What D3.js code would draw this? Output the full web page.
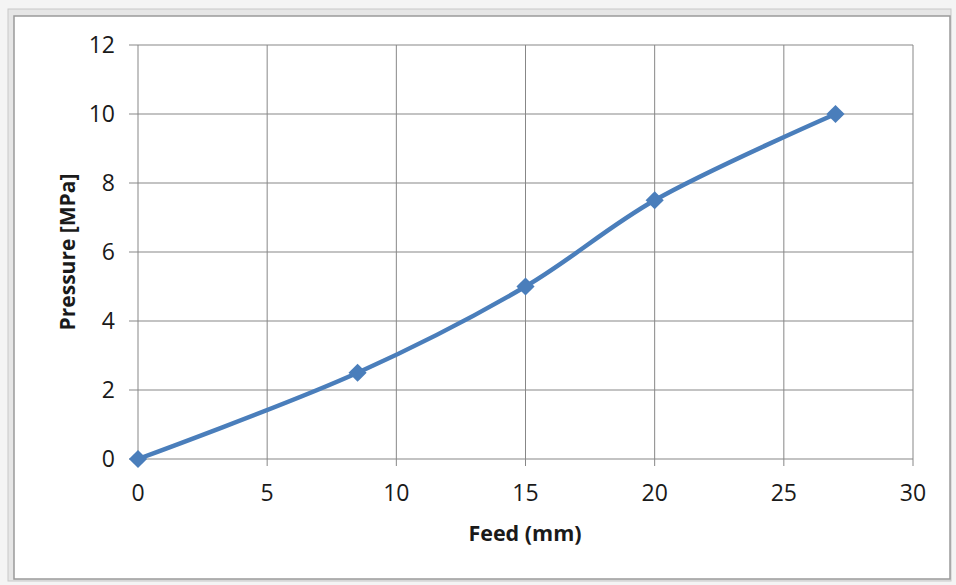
<!DOCTYPE html>
<html>
<head>
<meta charset="utf-8">
<script src="https://cdn.jsdelivr.net/npm/d3@7"></script>
<style>
  body { margin: 0; background: #ffffff; }
  svg { display: block; }
</style>
</head>
<body>
<svg id="chart" width="956" height="585"></svg>
<script>
// data
var feed = [0, 8.5, 15, 20, 27]
var pressure = [0, 2.5, 5, 7.5, 10]
var xTicks = [0, 5, 10, 15, 20, 25, 30]
var yTicks = [0, 2, 4, 6, 8, 10, 12]

var svg = d3.select("#chart")
var W = 956, H = 585
var margin = {top: 45, bottom: 126, left: 138, right: 43}

// spreadsheet backdrop behind the chart object
svg.append("rect").attr("x", 0).attr("y", 0).attr("width", W).attr("height", H).attr("fill", "#f4f4f4")
svg.append("rect").attr("x", 8).attr("y", 9).attr("width", 943).attr("height", 572)
   .attr("fill", "#e6e6e6").attr("stroke", "#c8c8c8")
svg.append("rect").attr("x", 14).attr("y", 16).attr("width", 936).attr("height", 563)
   .attr("fill", "#ffffff").attr("stroke", "#9a9a9a").attr("stroke-width", 1.5)

var x = d3.scaleLinear().domain([0, 30]).range([margin.left, W - margin.right])
var y = d3.scaleLinear().domain([0, 12]).range([H - margin.bottom, margin.top])

var grid = svg.append("g").attr("id", "grid")
grid.selectAll("line.v").data(xTicks).enter().append("line")
    .attr("x1", function (d) { return x(d) }).attr("x2", function (d) { return x(d) })
    .attr("y1", y(12)).attr("y2", y(0) + 7)
    .attr("stroke", "#878787").attr("stroke-width", 1)
grid.selectAll("line.h").data(yTicks).enter().append("line")
    .attr("x1", x(0) - 9).attr("x2", x(30))
    .attr("y1", function (d) { return y(d) }).attr("y2", function (d) { return y(d) })
    .attr("stroke", "#878787").attr("stroke-width", 1)

var font = "'Open Sans', 'Liberation Sans', sans-serif"

svg.append("g").selectAll("text").data(xTicks).enter().append("text")
   .attr("x", function (d) { return x(d) }).attr("y", y(0) + 42)
   .attr("text-anchor", "middle").attr("font-family", font).attr("font-size", "23px")
   .attr("fill", "#1a1a1a").text(function (d) { return d })

svg.append("g").selectAll("text").data(yTicks).enter().append("text")
   .attr("x", x(0) - 23).attr("y", function (d) { return y(d) + 8 })
   .attr("text-anchor", "end").attr("font-family", font).attr("font-size", "23px")
   .attr("fill", "#1a1a1a").text(function (d) { return d })

svg.append("text").attr("x", 525).attr("y", 541)
   .attr("text-anchor", "middle").attr("font-family", font).attr("font-size", "21.5px")
   .attr("font-weight", "bold").attr("fill", "#1a1a1a").text("Feed (mm)")

svg.append("text").attr("transform", "translate(75,252) rotate(-90)")
   .attr("text-anchor", "middle").attr("font-family", font).attr("font-size", "21px")
   .attr("font-weight", "bold").attr("fill", "#1a1a1a").text("Pressure [MPa]")

var pts = feed.map(function (d, i) { return [d, pressure[i]] })

var line = d3.line()
    .x(function (d) { return x(d[0]) })
    .y(function (d) { return y(d[1]) })
    .curve(d3.curveCatmullRom.alpha(0.5))

svg.append("path").datum(pts).attr("d", line)
   .attr("fill", "none").attr("stroke", "#4a7ebb").attr("stroke-width", 4.5)
   .attr("stroke-linejoin", "round")

svg.append("g").selectAll("path").data(pts).enter().append("path")
   .attr("d", d3.symbol().type(d3.symbolDiamond2).size(210))
   .attr("transform", function (d) { return "translate(" + x(d[0]) + "," + y(d[1]) + ")" })
   .attr("fill", "#4a7ebb")
</script>
</body>
</html>
